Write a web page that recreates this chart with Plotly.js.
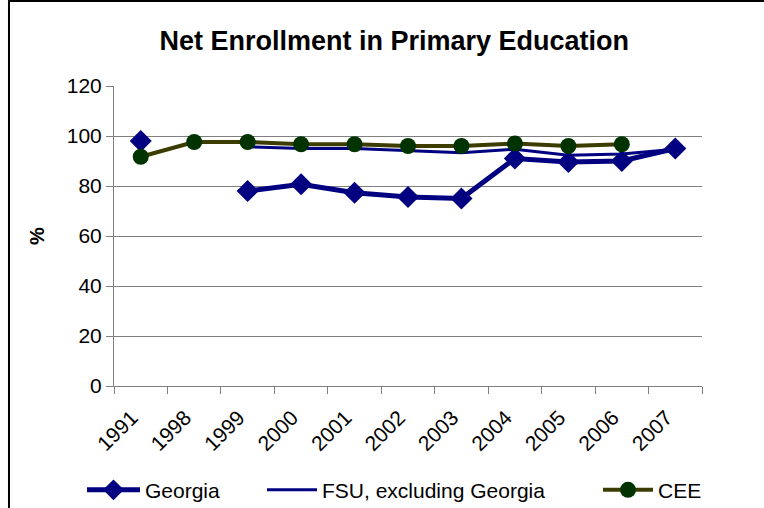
<!DOCTYPE html>
<html>
<head>
<meta charset="utf-8">
<script src="https://cdn.plot.ly/plotly-3.0.1.min.js"></script>
<style>
html,body{margin:0;padding:0;background:#fff;}
#chart{width:764px;height:508px;}
</style>
</head>
<body>
<div id="chart"></div>
<script>
const years = ['1991','1998','1999','2000','2001','2002','2003','2004','2005','2006','2007'];
const georgia = [98, null, 78, 80.7, 77.3, 75.6, 75, 91, 89.6, 90, 95];
const fsu = [null, null, 95.7, 95, 95, 94, 93.3, 94.7, 92.3, 92.8, 94.7];
const cee = [91.7, 97.6, 97.6, 96.7, 96.7, 96, 96, 97, 96, 96.7, null];

const navy = '#000080';
const olive = '#3c3c00';
const green = '#003300';
const font = 'Liberation Sans, Arial, sans-serif';

const traces = [
  {x: years, y: georgia, name: 'Georgia', type: 'scatter', mode: 'lines+markers',
   connectgaps: false, line: {color: navy, width: 5},
   marker: {symbol: 'diamond', size: 17, color: navy}, legend: 'legend'},
  {x: years, y: fsu, name: 'FSU, excluding Georgia', type: 'scatter', mode: 'lines',
   line: {color: navy, width: 3}, legend: 'legend2'},
  {x: years, y: cee, name: 'CEE', type: 'scatter', mode: 'lines+markers',
   line: {color: olive, width: 4},
   marker: {symbol: 'circle', size: 16, color: green}, legend: 'legend3'}
];

const legBase = {orientation: 'h', yref: 'container', xref: 'container', yanchor: 'middle', y: 0.035, xanchor: 'left',
  font: {family: font, size: 21, color: '#000'}, bgcolor: 'rgba(0,0,0,0)', borderwidth: 0};

const layout = {
  width: 764, height: 508,
  margin: {l: 114, r: 62, t: 86, b: 122},
  paper_bgcolor: '#fff', plot_bgcolor: '#fff',
  font: {family: font, color: '#000'},
  title: {text: '<b>Net Enrollment in Primary Education</b>', font: {family: font, size: 27, color: '#000'},
    xref: 'container', yref: 'container', x: 0.516, xanchor: 'center', y: 0.921, yanchor: 'middle'},
  xaxis: {type: 'category', automargin: false, showgrid: false, showline: true, linecolor: '#808080', linewidth: 1,
    ticks: 'outside', ticklen: 7, tickcolor: '#808080', tickson: 'boundaries',
    tickangle: -45, tickfont: {family: font, size: 21, color: '#000'}, ticklabelshift: -9, ticklabelstandoff: 10,
    range: [-0.5, 10.5], fixedrange: true},
  yaxis: {automargin: false, range: [0, 120], dtick: 20, showgrid: true, gridcolor: '#808080', gridwidth: 1,
    showline: true, linecolor: '#808080', linewidth: 1, ticks: 'outside', ticklen: 7, tickcolor: '#808080',
    tickfont: {family: font, size: 21, color: '#000'}, zeroline: false,
    title: {text: '<b>%</b>', font: {family: font, size: 20, color: '#000'}, standoff: 16}},
  showlegend: true,
  legend: Object.assign({}, legBase, {x: 82 / 764, itemwidth: 53}),
  legend2: Object.assign({}, legBase, {x: 262 / 764, itemwidth: 50}),
  legend3: Object.assign({}, legBase, {x: 598 / 764, itemwidth: 50}),
  shapes: [
    {type: 'line', xref: 'paper', yref: 'paper', x0: -0.1786, x1: -0.1786, y0: 1.287, y1: -0.41, line: {color: '#000', width: 2}},
    {type: 'line', xref: 'paper', yref: 'paper', x0: -0.1786, x1: 1.11, y0: 1.283, y1: 1.283, line: {color: '#000', width: 2}}
  ]
};

Plotly.newPlot('chart', traces, layout, {displayModeBar: false, staticPlot: true});
</script>
</body>
</html>
